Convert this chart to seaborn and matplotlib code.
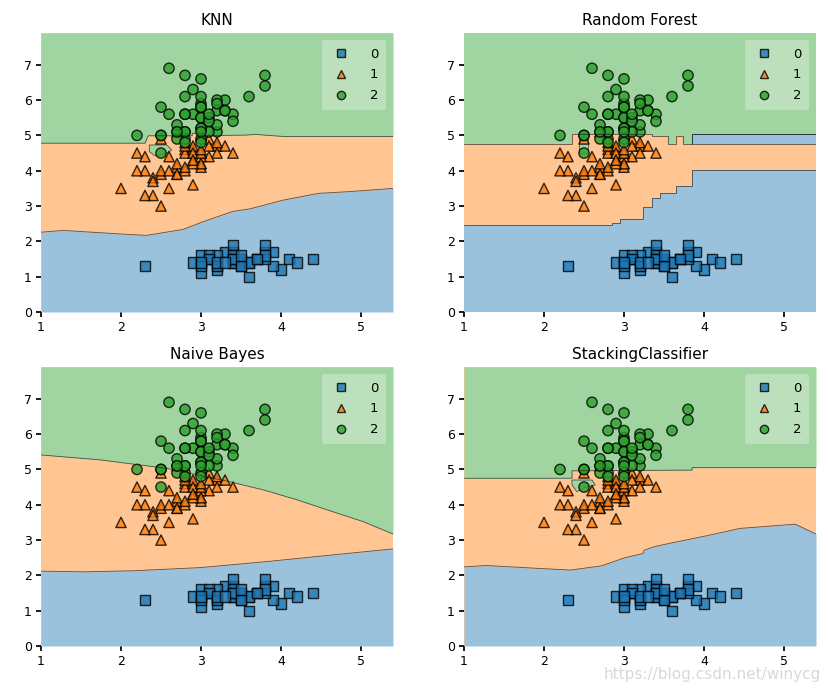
import numpy as np
import pandas as pd
import matplotlib.pyplot as plt
from matplotlib.lines import Line2D
import seaborn as sns

# Iris: sepal width (x) vs petal length (y)
width_0 = [3.5, 3.0, 3.2, 3.1, 3.6, 3.9, 3.4, 3.4, 2.9, 3.1,
           3.7, 3.4, 3.0, 3.0, 4.0, 4.4, 3.9, 3.5, 3.8, 3.8,
           3.4, 3.7, 3.6, 3.3, 3.4, 3.0, 3.4, 3.5, 3.4, 3.2,
           3.1, 3.4, 4.1, 4.2, 3.1, 3.2, 3.5, 3.6, 3.0, 3.4,
           3.5, 2.3, 3.2, 3.5, 3.8, 3.0, 3.8, 3.2, 3.7, 3.3]
length_0 = [1.4, 1.4, 1.3, 1.5, 1.4, 1.7, 1.4, 1.5, 1.4, 1.5,
            1.5, 1.6, 1.4, 1.1, 1.2, 1.5, 1.3, 1.4, 1.7, 1.5,
            1.7, 1.5, 1.0, 1.7, 1.9, 1.6, 1.6, 1.5, 1.4, 1.6,
            1.6, 1.5, 1.5, 1.4, 1.5, 1.2, 1.3, 1.4, 1.3, 1.5,
            1.3, 1.3, 1.3, 1.6, 1.9, 1.4, 1.6, 1.4, 1.5, 1.4]
width_1 = [3.2, 3.2, 3.1, 2.3, 2.8, 2.8, 3.3, 2.4, 2.9, 2.7,
           2.0, 3.0, 2.2, 2.9, 2.9, 3.1, 3.0, 2.7, 2.2, 2.5,
           3.2, 2.8, 2.5, 2.8, 2.9, 3.0, 2.8, 3.0, 2.9, 2.6,
           2.4, 2.4, 2.7, 2.7, 3.0, 3.4, 3.1, 2.3, 3.0, 2.5,
           2.6, 3.0, 2.6, 2.3, 2.7, 3.0, 2.9, 2.9, 2.5, 2.8]
length_1 = [4.7, 4.5, 4.9, 4.0, 4.6, 4.5, 4.7, 3.3, 4.6, 3.9,
            3.5, 4.2, 4.0, 4.7, 3.6, 4.4, 4.5, 4.1, 4.5, 3.9,
            4.8, 4.0, 4.9, 4.7, 4.3, 4.4, 4.8, 5.0, 4.5, 3.5,
            3.8, 3.7, 3.9, 5.1, 4.5, 4.5, 4.7, 4.4, 4.1, 4.0,
            4.4, 4.6, 4.0, 3.3, 4.2, 4.2, 4.2, 4.3, 3.0, 4.1]
width_2 = [3.3, 2.7, 3.0, 2.9, 3.0, 3.0, 2.5, 2.9, 2.5, 3.6,
           3.2, 2.7, 3.0, 2.5, 2.8, 3.2, 3.0, 3.8, 2.6, 2.2,
           3.2, 2.8, 2.8, 2.7, 3.3, 3.2, 2.8, 3.0, 2.8, 3.0,
           2.8, 3.8, 2.8, 2.8, 2.6, 3.0, 3.4, 3.1, 3.0, 3.1,
           3.1, 3.1, 2.7, 3.2, 3.3, 3.0, 2.5, 3.0, 3.4, 3.0]
length_2 = [6.0, 5.1, 5.9, 5.6, 5.8, 6.6, 4.5, 6.3, 5.8, 6.1,
            5.1, 5.3, 5.5, 5.0, 5.1, 5.3, 5.5, 6.7, 6.9, 5.0,
            5.7, 4.9, 6.7, 4.9, 5.7, 6.0, 4.8, 4.9, 5.6, 5.8,
            6.1, 6.4, 5.6, 5.1, 5.6, 6.1, 5.6, 5.5, 4.8, 5.4,
            5.6, 5.1, 5.1, 5.9, 5.7, 5.2, 5.0, 5.2, 5.4, 5.1]

titles = ["KNN", "Random Forest", "Naive Bayes", "StackingClassifier"]
class_labels = ["0", "1", "2"]

# decision boundaries
knn_low_x = [1.0, 1.28, 1.99, 2.32, 2.78, 3.03, 3.40, 3.61, 4.03, 4.47, 4.86, 5.40]
knn_low_y = [2.26, 2.31, 2.21, 2.17, 2.34, 2.56, 2.85, 2.92, 3.17, 3.36, 3.41, 3.50]
knn_up_x = [1.0, 2.30, 2.34, 2.89, 2.89, 2.96, 2.96, 3.57, 3.675, 4.03, 5.40]
knn_up_y = [4.78, 4.78, 4.99, 4.99, 5.06, 5.06, 4.99, 5.01, 5.03, 4.97, 4.97]
knn_island_x = [2.354, 2.571, 2.634, 2.571, 2.425, 2.354]
knn_island_y = [4.73, 4.73, 4.59, 4.50, 4.42, 4.54]

rf_low_x = [1.0, 2.85, 2.95, 3.24, 3.35, 3.45, 3.65, 3.85, 5.4]
rf_low_y = [2.46, 2.51, 2.63, 2.97, 3.22, 3.36, 3.58, 4.02, 4.02]
rf_up_x = [1.0, 2.35, 3.35, 3.55, 3.65, 3.74, 3.85, 5.4]
rf_up_y = [4.77, 5.04, 4.98, 4.77, 4.98, 4.77, 5.05, 5.05]
rf_blue_x = [3.85, 5.4, 5.4, 3.85]
rf_blue_y = [4.77, 4.77, 5.05, 5.05]
rf_island_x = [2.44, 2.55, 2.55, 2.44]
rf_island_y = [4.50, 4.50, 4.92, 4.92]

nb_low_x = [1.0, 1.53, 2.15, 2.99, 3.82, 4.65, 5.40]
nb_low_y = [2.12, 2.10, 2.13, 2.22, 2.39, 2.58, 2.75]
nb_up_x = [1.0, 1.74, 2.57, 3.36, 3.78, 4.20, 4.61, 5.03, 5.40]
nb_up_y = [5.41, 5.27, 5.03, 4.65, 4.42, 4.14, 3.83, 3.52, 3.17]

st_low_x = [1.0, 1.28, 1.99, 2.33, 2.72, 3.01, 3.24, 3.25, 3.39, 3.62, 4.03, 4.45, 5.14, 5.40]
st_low_y = [2.24, 2.28, 2.19, 2.15, 2.27, 2.50, 2.62, 2.71, 2.82, 2.93, 3.12, 3.33, 3.45, 3.17]
st_up_x = [1.0, 2.35, 2.35, 2.91, 3.85, 3.85, 5.4]
st_up_y = [4.75, 4.75, 4.96, 4.97, 4.98, 5.05, 5.05]
st_island_x = [2.35, 2.60, 2.64, 2.49, 2.41, 2.35]
st_island_y = [4.70, 4.70, 4.56, 4.47, 4.37, 4.56]

df = pd.DataFrame({
    "x": width_0 + width_1 + width_2,
    "y": length_0 + length_1 + length_2,
    "label": [0] * len(width_0) + [1] * len(width_1) + [2] * len(width_2),
})

sns.set_theme(style="ticks", rc={"text.color": "black", "xtick.color": "black",
                                 "ytick.color": "black"})
palette = sns.color_palette("tab10", 3)


def light(c, a=0.45):
    return tuple(1 - a * (1 - v) for v in c)


region = [light(c) for c in palette]
markers = {0: "s", 1: "^", 2: "o"}
x_lim = (1.0, 5.4)
y_lim = (0.0, 7.9)


def draw(ax, low, up, step=None, extras=()):
    ax.set_facecolor(region[1])
    ax.fill_between(low[0], y_lim[0], low[1], color=region[0], lw=0, step=step)
    ax.fill_between(up[0], up[1], y_lim[1], color=region[2], lw=0, step=step)
    ds = "steps-post" if step else "default"
    ax.plot(low[0], low[1], color="k", lw=0.6, alpha=0.7, drawstyle=ds)
    ax.plot(up[0], up[1], color="k", lw=0.6, alpha=0.7, drawstyle=ds)
    for px, py, k in extras:
        ax.fill(px, py, color=region[k], lw=0)
        ax.fill(px, py, fill=False, ec="k", lw=0.6, alpha=0.7)
    sns.scatterplot(data=df, x="x", y="y", hue="label", style="label",
                    palette=palette, markers=markers, s=55, alpha=0.8,
                    edgecolor="black", linewidth=1.0, legend=False, ax=ax)
    ax.set_xlim(*x_lim)
    ax.set_ylim(*y_lim)
    ax.set_xlabel("")
    ax.set_ylabel("")
    ax.set_xticks([1, 2, 3, 4, 5])
    ax.set_yticks(range(0, 8))
    ax.tick_params(labelsize=9, length=3.5, pad=3)
    sns.despine(ax=ax, left=True, bottom=True)
    handles = [Line2D([], [], ls="", marker=markers[k], markersize=6,
                      markerfacecolor=palette[k], markeredgecolor="black",
                      alpha=0.8) for k in range(3)]
    leg = ax.legend(handles, class_labels, loc="upper right", fontsize=9.5,
                    framealpha=0.3, frameon=True, handletextpad=1.4,
                    borderpad=0.6, labelspacing=0.6, handlelength=1.6)
    leg.get_frame().set_edgecolor("none")


fig = plt.figure(figsize=(8.29, 6.92), dpi=100)
W, H = 829, 692
boxes = [(41, 33), (464, 33), (41, 367), (464, 367)]
axes = [fig.add_axes([l / W, 1 - (t + 279) / H, 352 / W, 279 / H]) for l, t in boxes]

draw(axes[0], (knn_low_x, knn_low_y), (knn_up_x, knn_up_y),
     extras=[(knn_island_x, knn_island_y, 2)])
draw(axes[1], (rf_low_x, rf_low_y), (rf_up_x, rf_up_y), step="post",
     extras=[(rf_blue_x, rf_blue_y, 0), (rf_island_x, rf_island_y, 2)])
draw(axes[2], (nb_low_x, nb_low_y), (nb_up_x, nb_up_y))
draw(axes[3], (st_low_x, st_low_y), (st_up_x, st_up_y),
     extras=[(st_island_x, st_island_y, 2)])

for ax, t in zip(axes, titles):
    ax.set_title(t, fontsize=11, pad=6)

fig.text(0.99, 0.026, "https://blog.csdn.net/winycg", ha="right", va="center",
         fontsize=11, color="#d8d8d8")

fig.savefig("out.png", dpi=100)
